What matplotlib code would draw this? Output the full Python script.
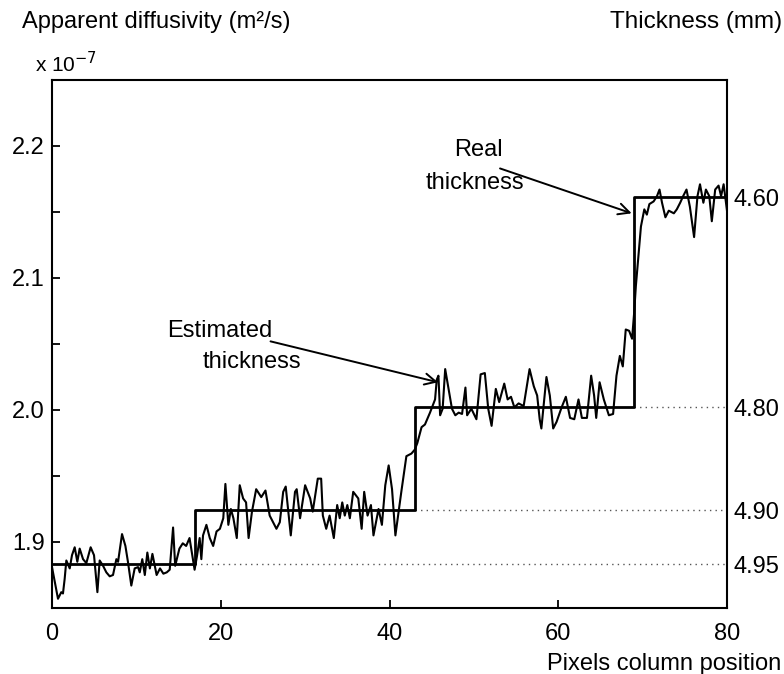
import matplotlib
matplotlib.use("Agg")
import matplotlib.pyplot as plt

# ---------------- data (diffusivity in units of 1e-7 m^2/s) ----------------
est_x = [0.0, 0.71, 1.1, 1.3, 1.5, 1.7, 2.1, 2.37, 2.69, 3.0, 3.28, 3.68, 4.07, 4.58, 4.98,
         5.38, 5.65, 6.05, 6.44, 6.84, 7.23, 7.63, 7.83, 8.3, 8.7, 9.0, 9.4, 9.8, 10.2, 10.4,
         10.7, 11.0, 11.3, 11.6, 11.9, 12.4, 12.8, 13.2, 13.6, 13.95, 14.35, 14.6, 15.1, 15.5,
         15.9, 16.3, 16.6, 16.9, 17.2, 17.5, 17.7, 17.9, 18.3, 18.7, 19.1, 19.5, 19.9, 20.3,
         20.55, 20.9, 21.2, 21.5, 21.9, 22.25, 22.65, 23.0, 23.3, 23.7, 24.2, 24.8, 25.3, 25.8,
         26.6, 27.0, 27.4, 27.7, 28.3, 28.8, 29.0, 29.4, 30.0, 30.6, 30.9, 31.5, 31.9, 32.1,
         32.5, 32.9, 33.4, 33.8, 34.1, 34.4, 34.7, 35.0, 35.3, 35.7, 36.3, 36.7, 37.0, 37.4,
         37.8, 38.1, 38.7, 39.1, 39.5, 39.9, 40.3, 40.7, 41.4, 42.0, 42.6, 43.0, 43.3, 43.8,
         44.2, 44.8, 45.4, 45.6, 45.8, 46.0, 46.3, 46.6, 47.0, 47.4, 47.8, 48.2, 48.6, 49.0,
         49.2, 49.7, 50.3, 50.8, 51.3, 51.7, 52.1, 52.6, 53.0, 53.6, 54.0, 54.4, 54.8, 55.3,
         55.9, 56.6, 57.1, 57.5, 57.8, 58.0, 58.6, 59.0, 59.4, 59.8, 60.4, 60.9, 61.4, 61.9,
         62.4, 62.8, 63.4, 63.9, 64.25, 64.5, 64.9, 65.4, 66.0, 66.5, 66.9, 67.3, 67.65, 68.0,
         68.4, 68.75, 69.0, 69.2, 69.5, 69.8, 70.2, 70.5, 70.8, 71.3, 71.7, 72.0, 72.3, 72.7,
         73.1, 73.7, 74.05, 74.45, 74.8, 75.2, 75.6, 76.1, 76.5, 76.8, 77.2, 77.5, 77.9, 78.2,
         78.6, 79.0, 79.3, 79.6, 80.0]
est_y = [1.881, 1.857, 1.862, 1.861, 1.872, 1.886, 1.880, 1.890, 1.896, 1.885, 1.895, 1.887,
         1.884, 1.896, 1.890, 1.862, 1.886, 1.882, 1.877, 1.874, 1.875, 1.887, 1.885, 1.906,
         1.897, 1.885, 1.867, 1.880, 1.881, 1.877, 1.887, 1.875, 1.892, 1.880, 1.891, 1.875,
         1.880, 1.876, 1.877, 1.879, 1.911, 1.882, 1.895, 1.899, 1.897, 1.903, 1.891, 1.879,
         1.890, 1.903, 1.887, 1.905, 1.913, 1.903, 1.897, 1.908, 1.910, 1.918, 1.944, 1.913,
         1.925, 1.918, 1.903, 1.943, 1.933, 1.930, 1.903, 1.923, 1.940, 1.934, 1.939, 1.920,
         1.910, 1.915, 1.938, 1.942, 1.905, 1.938, 1.940, 1.918, 1.943, 1.933, 1.923, 1.948,
         1.948, 1.920, 1.910, 1.920, 1.903, 1.928, 1.918, 1.930, 1.920, 1.928, 1.918, 1.938,
         1.933, 1.910, 1.938, 1.920, 1.928, 1.905, 1.925, 1.913, 1.943, 1.958, 1.940, 1.905,
         1.938, 1.965, 1.967, 1.970, 1.975, 1.987, 1.989, 1.998, 2.008, 2.023, 2.026, 1.996,
         2.001, 2.031, 2.016, 2.001, 1.996, 1.998, 1.997, 2.017, 1.996, 2.001, 1.993, 2.027,
         2.028, 2.001, 1.988, 2.016, 2.006, 2.020, 2.008, 2.010, 2.002, 2.005, 2.003, 2.031,
         2.018, 2.011, 1.993, 1.986, 2.025, 2.011, 1.986, 1.991, 2.002, 2.010, 1.994, 1.993,
         2.008, 1.994, 1.994, 2.026, 2.011, 1.994, 2.021, 2.008, 1.996, 1.997, 2.026, 2.041,
         2.033, 2.061, 2.060, 2.054, 2.074, 2.094, 2.117, 2.139, 2.152, 2.148, 2.156, 2.158,
         2.162, 2.167, 2.157, 2.146, 2.151, 2.149, 2.152, 2.157, 2.162, 2.167, 2.154, 2.131,
         2.162, 2.171, 2.157, 2.167, 2.162, 2.143, 2.167, 2.170, 2.162, 2.171, 2.151]

step_edges = [0, 17, 43, 69, 80]
step_levels = [1.883, 1.924, 2.002, 2.161]
thickness_labels = ["4.95", "4.90", "4.80", "4.60"]

x_ticks = [0, 20, 40, 60, 80]
y_major = [1.9, 2.0, 2.1, 2.2]
y_minor = [1.95, 2.05, 2.15]

# ---------------- figure ----------------
plt.rcParams['font.family'] = ['Liberation Sans', 'DejaVu Sans']
W, H = 784, 674
FS = 17
fig = plt.figure(figsize=(W / 100, H / 100), dpi=100)
ax = fig.add_axes([52 / W, 1 - 608 / H, (727 - 52) / W, (608 - 80) / H])

# real thickness: step line
sx, sy = [], []
for i, lev in enumerate(step_levels):
    sx += [step_edges[i], step_edges[i + 1]]
    sy += [lev, lev]
ax.plot(sx, sy, color='black', lw=2.0, zorder=3)

# dotted guides from each step to right axis
for i, lev in enumerate(step_levels[:-1]):
    ax.plot([step_edges[i + 1], 80], [lev, lev], color='#555555', lw=1.0,
            ls=(0, (1, 3)), zorder=1)

# estimated thickness: noisy line
ax.plot(est_x, est_y, color='black', lw=1.5, zorder=4)

ax.set_xlim(0, 80)
ax.set_ylim(1.85, 2.25)
ax.set_xticks(x_ticks)
ax.set_xticklabels([str(v) for v in x_ticks])
ax.set_yticks(y_major)
ax.set_yticklabels(["%.1f" % v for v in y_major])
ax.set_yticks(y_minor, minor=True)
ax.tick_params(axis='both', which='both', direction='in', length=6, width=1.3,
               labelsize=FS, colors='black')
ax.tick_params(axis='x', pad=11)
ax.tick_params(axis='y', pad=5)
for sp in ax.spines.values():
    sp.set_linewidth(1.5)

# right-hand thickness labels
ax2 = ax.twinx()
ax2.set_ylim(1.85, 2.25)
ax2.set_yticks(step_levels)
ax2.set_yticklabels(thickness_labels)
ax2.tick_params(axis='y', length=0, pad=5, labelsize=FS)
for sp in ax2.spines.values():
    sp.set_visible(False)

# annotations
ax.annotate("", xy=(68.7, 2.149), xytext=(53.1, 2.183),
            arrowprops=dict(arrowstyle='->', lw=1.4, color='black',
                            mutation_scale=20, shrinkA=0, shrinkB=0))
ax.annotate("", xy=(45.75, 2.021), xytext=(25.9, 2.052),
            arrowprops=dict(arrowstyle='->', lw=1.4, color='black',
                            mutation_scale=20, shrinkA=0, shrinkB=0))
ax.text(50.5, 2.197, "Real", fontsize=FS, ha='center', va='center')
ax.text(50.1, 2.172, "thickness", fontsize=FS, ha='center', va='center')
ax.text(19.9, 2.060, "Estimated", fontsize=FS, ha='center', va='center')
ax.text(23.7, 2.036, "thickness", fontsize=FS, ha='center', va='center')

# figure-level labels
fig.text(22 / W, 1 - 22 / H, "Apparent diffusivity (m\u00b2/s)", fontsize=FS,
         ha='left', va='center')
fig.text(782 / W, 1 - 22 / H, "Thickness (mm)", fontsize=FS + 0.5, ha='right', va='center')
fig.text(35 / W, 1 - 64 / H, "x 10$^{-7}$", fontsize=15, ha='left', va='center')
fig.text(781 / W, 1 - 664 / H, "Pixels column position", fontsize=FS,
         ha='right', va='center')

fig.savefig("out.png", dpi=100)
